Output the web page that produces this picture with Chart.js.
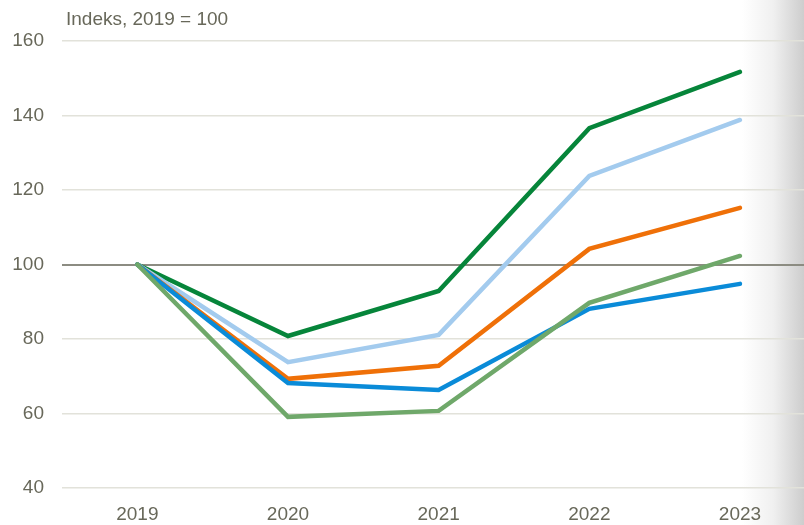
<!DOCTYPE html>
<html><head><meta charset="utf-8">
<script src="https://cdn.jsdelivr.net/npm/chart.js@4"></script>
<style>html,body{margin:0;padding:0;background:#fff}#wrap{width:804px;height:525px;position:relative}</style>
</head><body><div id="wrap"><canvas id="c" width="804" height="525"></canvas></div>
<script>
const years = [2019, 2020, 2021, 2022, 2023];
const darkGreen = [100, 80.8, 92.9, 136.6, 151.7];
const lightBlue = [100, 73.8, 81.1, 123.8, 138.8];
const orange = [100, 69.3, 72.8, 104.2, 115.2];
const blue = [100, 68.2, 66.3, 88.1, 94.8];
const lightGreen = [100, 59.1, 60.7, 89.7, 102.3];
const yTicks = [40, 60, 80, 100, 120, 140, 160];
const unitLabel = 'Indeks, 2019 = 100';

const FONT = "'Liberation Sans Narrow', 'Arial Narrow', 'Liberation Sans', Arial, sans-serif";
const TXT = '#68685a';

function ds(vals, color) {
  return { data: years.map((y, i) => ({ x: y, y: vals[i] })), borderColor: color, backgroundColor: color,
    borderWidth: 4.5, pointRadius: 0, tension: 0, borderCapStyle: 'round', borderJoinStyle: 'miter' };
}

const bg = {
  id: 'bg',
  beforeDraw(chart) {
    const ctx = chart.ctx;
    ctx.save();
    const g = ctx.createLinearGradient(742, 0, 804, 0);
    g.addColorStop(0, '#ffffff');
    g.addColorStop(0.5, '#f0f0f0');
    g.addColorStop(1, '#cdcdcd');
    ctx.fillStyle = g;
    ctx.fillRect(742, 0, 62, 525);
    ctx.restore();
  },
  afterDraw(chart) {
    const ctx = chart.ctx;
    ctx.save();
    ctx.fillStyle = TXT;
    ctx.font = '19px ' + FONT;
    ctx.textBaseline = 'alphabetic';
    ctx.fillText(unitLabel, 66, 25);
    ctx.restore();
  }
};

new Chart(document.getElementById('c'), {
  type: 'line',
  data: { datasets: [ds(lightGreen, '#6fa86a'), ds(blue, '#0a8bd8'), ds(orange, '#ef7008'), ds(lightBlue, '#a3cbee'), ds(darkGreen, '#06853a')] },
  options: {
    responsive: false, animation: false,
    layout: { padding: { top: 41, right: 0, left: 0, bottom: 0 } },
    plugins: { legend: { display: false }, tooltip: { enabled: false } },
    scales: {
      x: { type: 'linear', min: 2018.5, max: 2023.425,
        afterBuildTicks(s) { s.ticks = years.map(v => ({ value: v })); },
        afterFit(s) { s.height = 37; },
        grid: { display: false, drawTicks: false }, border: { display: false },
        ticks: { color: TXT, font: { family: FONT, size: 19 }, padding: 15, callback: v => String(v), maxRotation: 0, autoSkip: false } },
      y: { min: 40, max: 160,
        afterBuildTicks(s) { s.ticks = yTicks.map(v => ({ value: v })); },
        afterFit(s) { s.width = 62; },
        border: { display: false },
        grid: { drawTicks: false, color: ctx => ctx.tick && ctx.tick.value === 100 ? '#8c8c82' : '#e2e2da', lineWidth: ctx => ctx.tick && ctx.tick.value === 100 ? 2 : 1.5 },
        ticks: { color: TXT, font: { family: FONT, size: 19 }, padding: 18 } }
    }
  },
  plugins: [bg]
});
</script></body></html>
